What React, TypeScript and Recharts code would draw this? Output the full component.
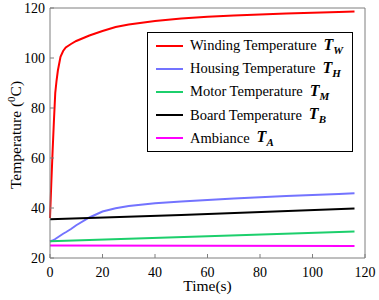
import { LineChart, Line, XAxis, YAxis, Legend, Label } from 'recharts';

const timeTicks = [0, 20, 40, 60, 80, 100, 120];
const tempTicks = [20, 40, 60, 80, 100, 120];

// winding rises very fast in the first seconds, so it gets denser points
const windingTime = [0, 0.5, 1, 1.5, 2, 2.5, 3, 4, 5, 6, 8, 10, 15, 20, 25, 30, 40, 50, 60, 70, 80, 90, 100, 110, 116];
const windingTemp = [36, 50, 63, 75, 86, 91, 95, 100.5, 102.8, 104.2, 105.6, 106.8, 109, 110.8, 112.4, 113.4, 114.8, 115.8, 116.5, 117, 117.4, 117.8, 118.1, 118.4, 118.6];

const housingTime = [0, 1, 2, 3, 4, 5, 6, 8, 10, 15, 20, 25, 30, 40, 50, 60, 70, 80, 90, 100, 110, 116];
const housingTemp = [26.6, 27, 27.6, 28.3, 29, 29.7, 30.3, 31.6, 33.1, 36.2, 38.6, 39.9, 40.8, 41.9, 42.6, 43.2, 43.8, 44.3, 44.8, 45.2, 45.6, 45.9];

const motorTime = [0, 57, 116];
const motorTemp = [26.7, 28.6, 30.6];

const boardTime = [0, 50, 116];
const boardTemp = [35.5, 37.2, 39.8];

const ambianceTime = [0, 116];
const ambianceTemp = [25, 24.8];

const seriesNames = ['Winding Temperature', 'Housing Temperature', 'Motor Temperature', 'Board Temperature', 'Ambiance'];
const seriesSubs = ['W', 'H', 'M', 'B', 'A'];
const seriesColors = ['#ff0000', '#7373ff', '#1ccf6c', '#000000', '#ff00ff'];

const toPoints = (t: number[], v: number[]) => t.map((x, i) => ({ t: x, v: v[i] }));

const seriesData = [
  toPoints(windingTime, windingTemp),
  toPoints(housingTime, housingTemp),
  toPoints(motorTime, motorTemp),
  toPoints(boardTime, boardTemp),
  toPoints(ambianceTime, ambianceTemp),
];

const serif = 'Liberation Serif, DejaVu Serif, serif';
const axisGray = '#7f7f7f';

function LegendBox() {
  return (
    <div
      style={{
        border: '1px solid #000',
        background: '#fff',
        boxSizing: 'border-box',
        width: 206,
        height: 120,
        paddingTop: 1,
        fontFamily: serif,
        fontSize: 14.5,
        color: '#000',
      }}
    >
      {seriesNames.map((name, i) => (
        <div key={name} style={{ display: 'flex', alignItems: 'center', height: 23.2 }}>
          <svg width={27} height={4} style={{ marginLeft: 8, marginRight: 7 }}>
            <line x1={0} y1={2} x2={27} y2={2} stroke={seriesColors[i]} strokeWidth={2} />
          </svg>
          <span style={{ whiteSpace: 'nowrap' }}>{name}</span>
          <span style={{ marginLeft: 7, fontStyle: 'italic', fontWeight: 'bold', fontSize: 16, whiteSpace: 'nowrap' }}>
            T<sub style={{ fontSize: 11, verticalAlign: '-4px' }}>{seriesSubs[i]}</sub>
          </span>
        </div>
      ))}
    </div>
  );
}

export default function App() {
  const tickStyle = { fill: '#000', fontSize: 14, fontFamily: serif };
  return (
    <div style={{ position: 'absolute', left: 0, top: 0, background: '#fff' }}>
      <LineChart width={379} height={300} margin={{ top: 7, right: 13, bottom: 0, left: 0 }}>
        <XAxis
          dataKey="t"
          type="number"
          domain={[0, 120]}
          ticks={timeTicks}
          allowDuplicatedCategory={false}
          height={42}
          stroke={axisGray}
          tickSize={-4}
          tickMargin={13}
          tick={tickStyle}
        >
          <Label
            content={() => (
              <text x={207.5} y={291} textAnchor="middle" fontFamily={serif} fontSize={15.5} fill="#000">
                Time(s)
              </text>
            )}
          />
        </XAxis>
        <XAxis
          xAxisId="top"
          orientation="top"
          dataKey="t"
          type="number"
          domain={[0, 120]}
          ticks={timeTicks}
          height={1}
          stroke={axisGray}
          tickSize={-4}
          tick={false}
        />
        <YAxis
          type="number"
          domain={[20, 120]}
          ticks={tempTicks}
          width={50}
          stroke={axisGray}
          tickSize={-4}
          tickMargin={9}
          tick={tickStyle}
        >
          <Label
            content={() => (
              <text
                x={21}
                y={135}
                textAnchor="middle"
                transform="rotate(-90, 21, 135)"
                fontFamily={serif}
                fontSize={15.5}
                fill="#000"
              >
                Temperature (
                <tspan fontSize={11} dy={-6}>0</tspan>
                <tspan dy={6}>C)</tspan>
              </text>
            )}
          />
        </YAxis>
        <YAxis
          yAxisId="right"
          orientation="right"
          type="number"
          domain={[20, 120]}
          ticks={tempTicks}
          width={1}
          stroke={axisGray}
          tickSize={-4}
          tick={false}
        />
        <Legend
          layout="vertical"
          verticalAlign="middle"
          align="center"
          content={() => <LegendBox />}
          wrapperStyle={{ left: 147, top: 32, width: 206, height: 120 }}
        />
        {seriesData.map((pts, i) => (
          <Line
            key={seriesNames[i]}
            data={pts}
            dataKey="v"
            name={seriesNames[i]}
            type="linear"
            stroke={seriesColors[i]}
            strokeWidth={2}
            dot={false}
            isAnimationActive={false}
          />
        ))}
      </LineChart>
    </div>
  );
}
